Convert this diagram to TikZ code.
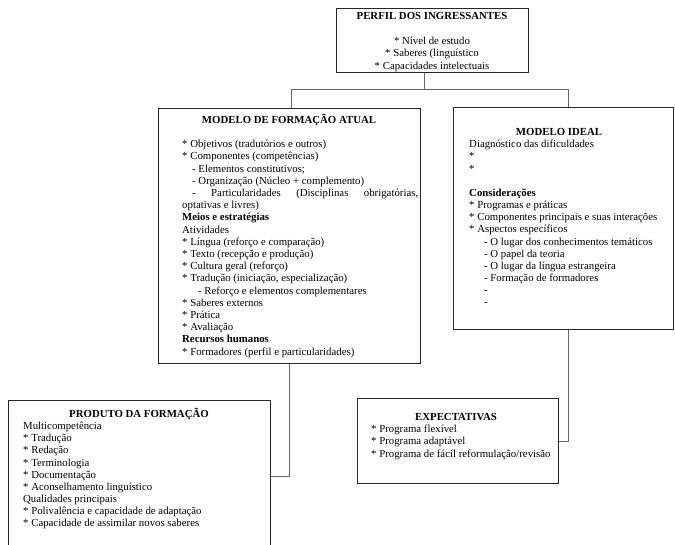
\documentclass[tikz,border=0pt]{standalone}
\usepackage{fontspec}
\setmainfont{Liberation Serif}
\usepackage{tikz}
\pgfdeclarelayer{nodelayer}
\pgfdeclarelayer{edgelayer}
\pgfsetlayers{nodelayer, edgelayer, main}
\tikzset{
  box/.style={draw=black!85, line width=0.8pt, inner sep=0, anchor=north west},
  boxtitle/.style={inner sep=0, font=\fontsize{10.8}{12}\selectfont\bfseries},
  boxtext/.style={inner sep=0, anchor=north west, align=left, font=\fontsize{10.8}{12.15}\selectfont},
  link/.style={draw=black!60, line width=0.8pt}
}

\begin{document}
\begin{tikzpicture} [x=1pt, y=-1pt]
	\useasboundingbox (0,0) rectangle (675,545);
	\begin{pgfonlayer}{nodelayer}
        \node[box, minimum width=192, minimum height=64] (perfil) at (336,8) {};
        \node[box, minimum width=262, minimum height=255] (atual) at (158,108) {};
        \node[box, minimum width=220, minimum height=222] (ideal) at (453,107) {};
        \node[box, minimum width=262, minimum height=152] (produto) at (8,400) {};
        \node[box, minimum width=201, minimum height=85] (expect) at (357,398) {};

        \node[boxtitle] (perfiltitle) at (432,16) {PERFIL DOS INGRESSANTES};
        \node[boxtext, anchor=north, align=center] (perfiltext) at (432,37) {* Nível de estudo\\ * Saberes (linguístico\\ * Capacidades intelectuais};

        \node[boxtitle] (atualtitle) at (289,120) {MODELO DE FORMAÇÃO ATUAL};
        \node[boxtext, font=\fontsize{10.8}{12.2}\selectfont] (atualtext) at (182,140) {* Objetivos (tradutórios e outros)\\
            * Componentes (competências)\\
            \hspace*{10pt}- Elementos constitutivos;\\
            \hspace*{10pt}- Organização (Núcleo + complemento)\\
            \hspace*{10pt}\makebox[226pt][s]{- Particularidades (Disciplinas obrigatórias,}\\
            optativas e livres)\\
            \textbf{Meios e estratégias}\\
            Atividades\\
            * Língua (reforço e comparação)\\
            * Texto (recepção e produção)\\
            * Cultura geral (reforço)\\
            * Tradução (iniciação, especialização)\\
            \hspace*{16pt}- Reforço e elementos complementares\\
            * Saberes externos\\
            * Prática\\
            * Avaliação\\
            \textbf{Recursos humanos}\\
            * Formadores (perfil e particularidades)};

        \node[boxtitle] (idealtitle) at (559,132) {MODELO IDEAL};
        \node[boxtext] (idealtext) at (469,140) {Diagnóstico das dificuldades\\
            *\\
            *\\
            \\
            \textbf{Considerações}\\
            * Programas e práticas\\
            * Componentes principais e suas interações\\
            * Aspectos específicos\\
            \hspace*{15pt}- O lugar dos conhecimentos temáticos\\
            \hspace*{15pt}- O papel da teoria\\
            \hspace*{15pt}- O lugar da língua estrangeira\\
            \hspace*{15pt}- Formação de formadores\\
            \hspace*{15pt}-\\
            \hspace*{15pt}-};

        \node[boxtitle] (produtotitle) at (139,414) {PRODUTO DA FORMAÇÃO};
        \node[boxtext, font=\fontsize{10.8}{12.1}\selectfont] (produtotext) at (23,422) {Multicompetência\\
            * Tradução\\
            * Redação\\
            * Terminologia\\
            * Documentação\\
            * Aconselhamento linguístico\\
            Qualidades principais\\
            * Polivalência e capacidade de adaptação\\
            * Capacidade de assimilar novos saberes};

        \node[boxtitle] (expecttitle) at (456,417) {EXPECTATIVAS};
        \node[boxtext, font=\fontsize{10.8}{12.1}\selectfont] (expecttext) at (371,425) {* Programa flexível\\
            * Programa adaptável\\
            * Programa de fácil reformulação/revisão};
	\end{pgfonlayer}
	\begin{pgfonlayer}{edgelayer}
        \coordinate (junction) at (424,89);
        \coordinate (ljoin) at (291,89);
        \coordinate (rjoin) at (568,89);
        \draw[link] (perfil.south -| junction) -- (junction);
        \draw[link] (atual.north -| ljoin) -- (ljoin) -- (rjoin) -- (ideal.north -| rjoin);
        \draw[link] (atual.south) |- (produto.east);
        \draw[link] (ideal.south -| rjoin) |- (expect.east);
	\end{pgfonlayer}
    \end{tikzpicture}
\end{document}
